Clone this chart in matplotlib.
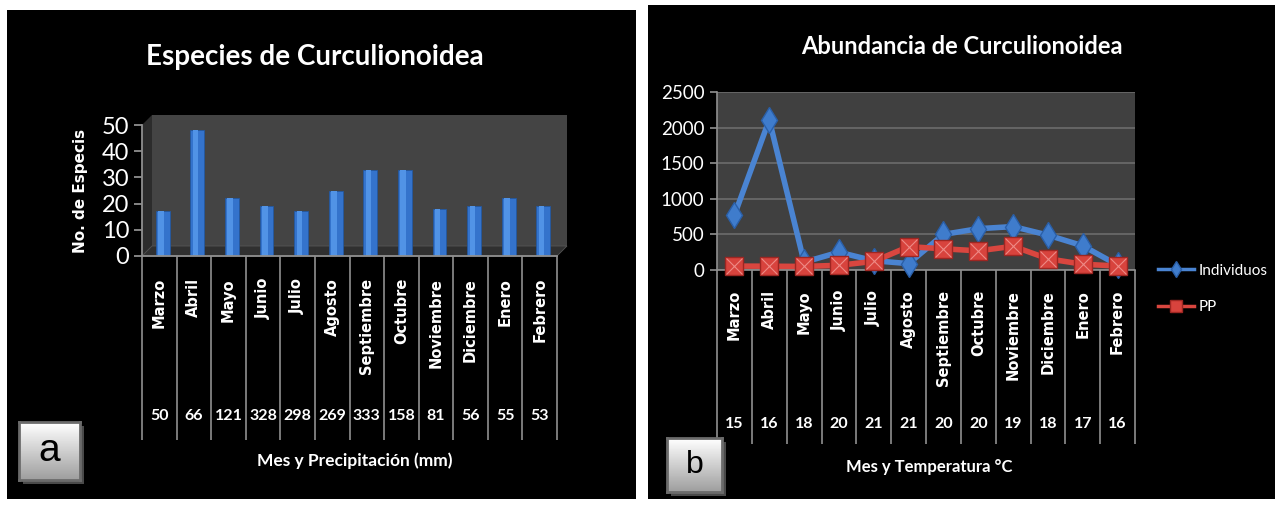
import numpy as np
import matplotlib
matplotlib.use("Agg")
import matplotlib.pyplot as plt
from matplotlib.patches import Rectangle, Polygon
from matplotlib.transforms import Affine2D, blended_transform_factory

meses = ["Marzo", "Abril", "Mayo", "Junio", "Julio", "Agosto", "Septiembre",
         "Octubre", "Noviembre", "Diciembre", "Enero", "Febrero"]
especies = [17, 48, 22, 19, 17, 25, 33, 33, 18, 19, 22, 19]
precipitacion = [50, 66, 121, 328, 298, 269, 333, 158, 81, 56, 55, 53]
temperatura = [15, 16, 18, 20, 21, 21, 20, 20, 19, 18, 17, 16]
individuos = [770, 2110, 110, 250, 130, 90, 500, 580, 610, 490, 340, 70]
pp = [55, 53, 50, 66, 121, 328, 298, 269, 333, 158, 81, 56]

plt.rcParams["font.family"] = ["Lato", "DejaVu Sans"]
BOLD_WIDE = ["DejaVu Sans"]

W, H = 1279, 505
fig = plt.figure(figsize=(W / 100, H / 100), dpi=100, facecolor="white")
# pixel coordinates measured from the top-left corner of the figure
pix = Affine2D().scale(1 / W, -1 / H).translate(0, 1) + fig.transFigure


def box(x0, y0, x1, y1):
    return [x0 / W, 1 - y1 / H, (x1 - x0) / W, (y1 - y0) / H]


def panel_tag(x0, y0, x1, y1, letter, size):
    fig.patches.append(Rectangle((x0 + 4, y0 + 4), x1 - x0, y1 - y0, transform=pix,
                                 facecolor="#4a4a4a", edgecolor="none", zorder=5))
    tag = fig.add_axes(box(x0, y0, x1, y1), zorder=6)
    grad = np.linspace(1.0, 0.62, 64)[:, None]
    tag.imshow(grad, cmap="gray", vmin=0, vmax=1, aspect="auto", extent=(0, 1, 0, 1))
    tag.set_xticks([])
    tag.set_yticks([])
    for s in tag.spines.values():
        s.set_color("#6b6b6b")
        s.set_linewidth(2)
    tag.text(0.5, 0.5, letter, ha="center", va="center", fontsize=size,
             family="Liberation Sans", color="black")


# black panels
fig.patches.append(Rectangle((7, 10), 629, 489, transform=pix, facecolor="black",
                             edgecolor="none", zorder=-5))
fig.patches.append(Rectangle((648, 5), 627, 494, transform=pix, facecolor="black",
                             edgecolor="none", zorder=-5))

x = np.arange(len(meses))
grid_c = "#8f8f8f"

# ---- a: species bar chart (pseudo 3D) ----
L, R, T, B = 142, 557, 125, 256
dx, dy = 10, -10
ax1 = fig.add_axes(box(L, T, R, B))
ax1.set_xlim(0, 12)
ax1.set_ylim(0, 50)
ax1.patch.set_visible(False)
ax1.add_patch(Polygon([(L + dx, T + dy), (R + dx, T + dy), (R + dx, B + dy), (L + dx, B + dy)],
                      closed=True, transform=pix, facecolor="#444444", edgecolor="none",
                      clip_on=False, zorder=0))
ax1.add_patch(Polygon([(L, T), (L + dx, T + dy), (L + dx, B + dy), (L, B)], closed=True,
                      transform=pix, facecolor="#2c2c2c", edgecolor="none", clip_on=False, zorder=0))
ax1.add_patch(Polygon([(L, B), (R, B), (R + dx, B + dy), (L + dx, B + dy)], closed=True,
                      transform=pix, facecolor="#303030", edgecolor="#555555", linewidth=0.6,
                      clip_on=False, zorder=0.5))
ax1.bar(x + 0.6, especies, width=0.4, color="#3473cc", edgecolor="#24589f",
        linewidth=0.6, zorder=3)
ax1.bar(x + 0.55, especies, width=0.16, color="#5193e6", linewidth=0, zorder=4)
for side in ("top", "right"):
    ax1.spines[side].set_visible(False)
for side in ("left", "bottom"):
    ax1.spines[side].set_color(grid_c)
    ax1.spines[side].set_linewidth(1.3)
    ax1.spines[side].set_zorder(5)
ax1.set_yticks(range(0, 51, 10))
ax1.set_xticks([])
ax1.tick_params(axis="y", colors=grid_c, labelcolor="white", labelsize=17,
                length=6, width=1.3, pad=3)
ax1.set_ylabel("No. de Especis", color="white", fontsize=11, fontweight="bold",
               family=BOLD_WIDE, labelpad=10)

blend1 = blended_transform_factory(ax1.transData, pix)
ax1.vlines(np.arange(13), B, 440, transform=blend1, colors=grid_c, linewidth=1.2, clip_on=False)
for i, (m, p) in enumerate(zip(meses, precipitacion)):
    ax1.text(i + 0.5, 278, m, transform=blend1, rotation=90, ha="center", va="top",
             color="white", fontsize=10.5, fontweight="bold", family=BOLD_WIDE)
    ax1.text(i + 0.5, 416, str(p), transform=blend1, ha="center", va="center",
             color="white", fontsize=11.5, fontweight="bold")
fig.text(315, 57, "Especies de Curculionoidea", transform=pix, ha="center", va="center",
         color="white", fontsize=20, fontweight="bold")
fig.text(355, 461, "Mes y Precipitación (mm)", transform=pix, ha="center", va="center",
         color="white", fontsize=12.5, fontweight="bold")
panel_tag(19, 422, 80, 480, "a", 28)

# ---- b: abundance line chart ----
L2, R2, T2, B2 = 717, 1135, 92, 270
ax2 = fig.add_axes(box(L2, T2, R2, B2))
ax2.set_facecolor("#404040")
ax2.set_xlim(0, 12)
ax2.set_ylim(0, 2500)
ax2.set_yticks(range(0, 2501, 500))
ax2.set_xticks([])
ax2.grid(axis="y", color="#6c6c6c", linewidth=1.2)
ax2.set_axisbelow(True)
for side in ("top", "right"):
    ax2.spines[side].set_visible(False)
for side in ("left", "bottom"):
    ax2.spines[side].set_color(grid_c)
    ax2.spines[side].set_linewidth(1.2)
ax2.tick_params(axis="y", colors=grid_c, labelcolor="white", labelsize=13.5,
                length=5, width=1.2, pad=4)

ax2.plot(x + 0.5, individuos, color="#4a84d2", linewidth=4, marker="d", markersize=13,
         markerfacecolor="#3f7ccc", markeredgecolor="#2a5fa8", markeredgewidth=1,
         clip_on=False, zorder=3, label="Individuos")
ax2.plot(x + 0.5, pp, color="#d9463f", linewidth=4, marker="s", markersize=13.5,
         markerfacecolor="#d8433d", markeredgecolor="#9e2622", markeredgewidth=1,
         clip_on=False, zorder=4, label="PP")
ax2.plot(x + 0.5, pp, linestyle="none", marker="x", markersize=11.5,
         markeredgecolor="#ee8a86", markeredgewidth=0.8, clip_on=False, zorder=5)

blend2 = blended_transform_factory(ax2.transData, pix)
ax2.vlines(np.arange(13), B2, 444, transform=blend2, colors=grid_c, linewidth=1.2, clip_on=False)
for i, (m, t) in enumerate(zip(meses, temperatura)):
    ax2.text(i + 0.5, 290, m, transform=blend2, rotation=90, ha="center", va="top",
             color="white", fontsize=10.5, fontweight="bold", family=BOLD_WIDE)
    ax2.text(i + 0.5, 424, str(t), transform=blend2, ha="center", va="center",
             color="white", fontsize=11.5, fontweight="bold")
fig.text(962, 47, "Abundancia de Curculionoidea", transform=pix, ha="center", va="center",
         color="white", fontsize=17, fontweight="bold")
fig.text(929, 467, "Mes y Temperatura °C", transform=pix, ha="center", va="center",
         color="white", fontsize=12, fontweight="bold")
leg = fig.legend(handles=ax2.get_lines()[:2], loc="center left", bbox_to_anchor=(1144, 289),
                 bbox_transform=pix, frameon=False, labelcolor="white", fontsize=11,
                 markerscale=0.6, handlelength=2.4, handletextpad=0.3, labelspacing=1.5)
for line in leg.get_lines():
    line.set_linewidth(2.5)
panel_tag(667, 438, 722, 492, "b", 23)

fig.savefig("out.png", dpi=100, facecolor="white")
